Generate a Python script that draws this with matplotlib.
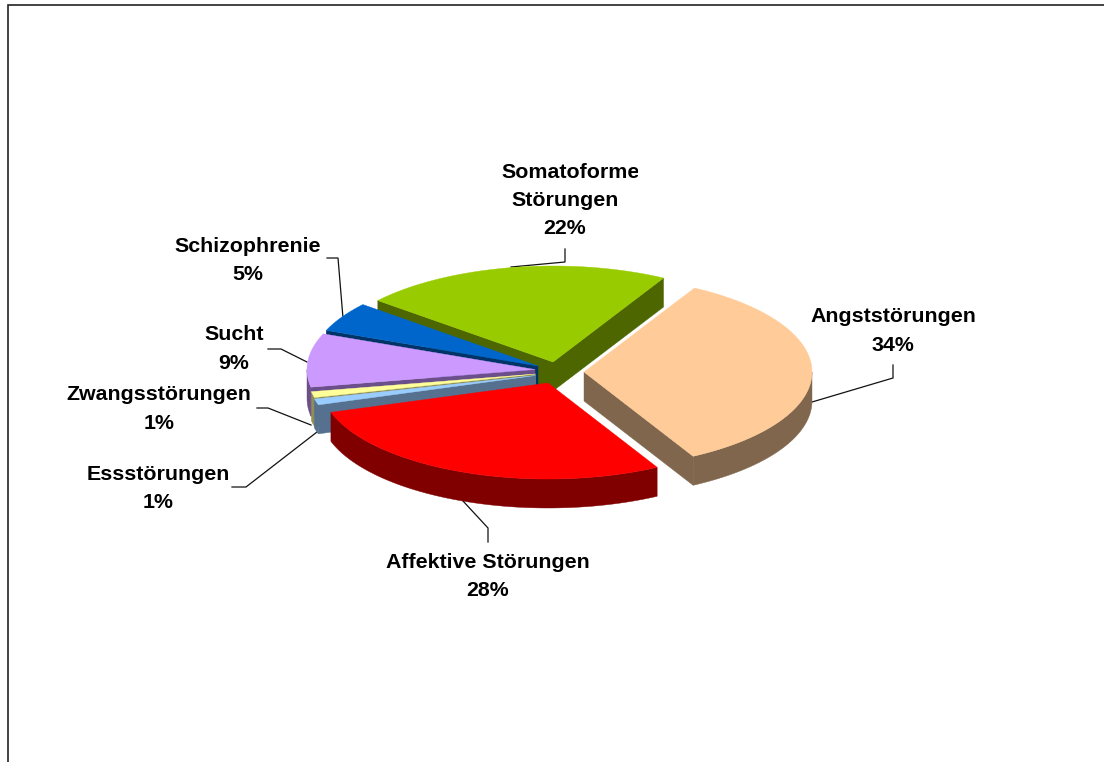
import numpy as np
import matplotlib
matplotlib.use('Agg')
import matplotlib.pyplot as plt
from matplotlib.patches import Rectangle

plt.rcParams['font.family'] = ['Liberation Sans', 'DejaVu Sans']

# slices, clockwise from the start angle
names = ['Angststörungen', 'Affektive Störungen', 'Essstörungen', 'Zwangsstörungen',
         'Sucht', 'Schizophrenie', 'Somatoforme\nStörungen']
values = [34, 28, 1, 1, 9, 5, 22]

top_colors = ['#FFCC99', '#FF0000', '#99CCFF', '#FFFF99', '#CC99FF', '#0066CC', '#99CC00']
wall_colors = ['#7F664D', '#800000', '#56708F', '#8F8F55', '#6B4F8A', '#003366', '#4D6600']

# tip of every slice on the page (the pie is exploded)
tips_x = [584, 548, 535.5, 535.5, 535, 538, 553]
tips_y = [372, 383, 375.5, 374, 369.5, 366, 362]
draw_order = [6, 5, 4, 3, 2, 0, 1]

start_angle = 29
radius_x = 228
radius_y = 96
depth = 29

# label centre x, first line y
label_x = [893, 488, 158, 159, 234, 248, 565]
label_y = [317, 562, 474, 395, 335, 246, 172]
line_step = 28.3

# leader lines
leaders = [
    ([893, 893, 812], [365, 378, 402]),
    ([488, 488, 463], [542, 528, 501]),
    ([232, 246, 317], [487, 487, 432]),
    ([257, 268, 311], [408, 408, 425]),
    ([268, 281, 307], [349, 349, 362]),
    ([327, 338, 343], [258, 258, 318]),
    ([565, 565, 511], [249, 262, 267]),
]

fig = plt.figure(figsize=(11.04, 7.62), dpi=100)
ax = fig.add_axes([0, 0, 1, 1])
ax.set_xlim(0, 1104)
ax.set_ylim(762, 0)
ax.axis('off')

# chart frame, open on the right and at the bottom
ax.plot([7.5, 7.5, 1104], [762, 4.5, 4.5], color='#222222', lw=1.2, solid_joinstyle='miter', zorder=1)

angles = start_angle + np.cumsum([0] + [v * 3.6 for v in values])


def point(i, deg):
    t = np.radians(deg)
    return tips_x[i] + radius_x * np.sin(t), tips_y[i] - radius_y * np.cos(t)


z = 2
for i in draw_order:
    a0, a1 = angles[i], angles[i + 1]
    tx, ty = tips_x[i], tips_y[i]
    wall = dict(color=wall_colors[i], lw=0.3)

    # straight side walls that face the viewer
    for a, visible in ((a0, np.sin(np.radians(a0)) < 0), (a1, np.sin(np.radians(a1)) > 0)):
        if visible:
            ex, ey = point(i, a)
            ax.fill([tx, ex, ex, tx], [ty, ey, ey + depth, ty + depth], zorder=z, **wall)

    # curved wall, front half of the circle only
    lo = max(a0, 90)
    hi = min(a1, 270)
    if lo < hi:
        ang = np.linspace(lo, hi, 120)
        ox, oy = point(i, ang)
        ax.fill(np.r_[ox, ox[::-1]], np.r_[oy, oy[::-1] + depth], zorder=z, **wall)

    # top face
    ang = np.linspace(a0, a1, 200)
    ox, oy = point(i, ang)
    ax.fill(np.r_[tx, ox], np.r_[ty, oy], color=top_colors[i], lw=0.3, zorder=z + 0.5)
    z += 1

for lx, ly in leaders:
    ax.plot(lx, ly, color='#111111', lw=0.9, zorder=1.5, solid_joinstyle='miter')

for i in range(len(names)):
    lines = names[i].split('\n') + ['%d%%' % values[i]]
    for k, line in enumerate(lines):
        x = label_x[i]
        if line == 'Somatoforme':
            x += 6
        t = ax.text(x, label_y[i] + k * line_step, line, ha='center', va='center',
                    fontsize=15.4, fontweight='bold', color='black', zorder=20)
        if line == 'Somatoforme':
            # the label box cuts the last letter in the original
            t.set_clip_path(Rectangle((0, 0), 638, 762, transform=ax.transData))
            t.set_clip_on(True)

fig.savefig('out.png', dpi=100, facecolor='white')
